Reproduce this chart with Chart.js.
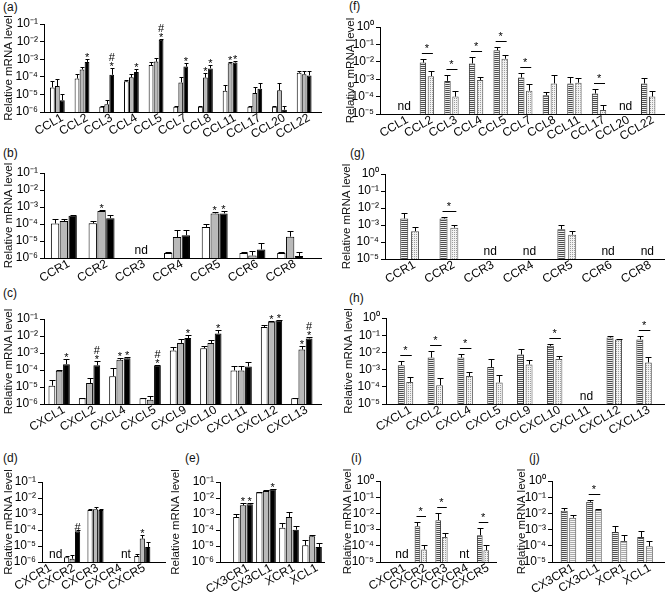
<!DOCTYPE html>
<html><head><meta charset="utf-8">
<script src="https://cdn.jsdelivr.net/npm/chart.js@4.4.1/dist/chart.umd.min.js"></script>
<style>
html,body{margin:0;padding:0;background:#fff}
body{width:667px;height:598px;position:relative;overflow:hidden;font-family:"Liberation Sans",Arial,sans-serif}
canvas{position:absolute}
.lab{position:absolute;font-size:12px;color:#111;line-height:12px}
</style></head><body>
<div class="lab" style="left:3px;top:1px">(a)</div>
<div class="lab" style="left:3px;top:147px">(b)</div>
<div class="lab" style="left:3px;top:287px">(c)</div>
<div class="lab" style="left:3px;top:452px">(d)</div>
<div class="lab" style="left:185px;top:452px">(e)</div>
<div class="lab" style="left:349px;top:0px">(f)</div>
<div class="lab" style="left:350px;top:147px">(g)</div>
<div class="lab" style="left:349px;top:292px">(h)</div>
<div class="lab" style="left:351px;top:452px">(i)</div>
<div class="lab" style="left:529px;top:452px">(j)</div>
<script>
// ---------- tick values ----------
const yTicksLeft = [1e-6, 1e-5, 1e-4, 1e-3, 1e-2, 1e-1];
const yTicksRight = [1e-5, 1e-4, 1e-3, 1e-2, 1e-1, 1];

// ---------- (a) CC chemokines, three groups ----------
const aCats = ['CCL1','CCL2','CCL3','CCL4','CCL5','CCL7','CCL8','CCL11','CCL17','CCL20','CCL22'];
const aWhite    = [2.5e-5, 8e-5, 2e-6, 5.5e-5, 4.7e-4, 2e-6, 2e-6, 1.6e-5, 2e-6, 2e-6, 1.7e-4];
const aWhiteErr = [5.7e-5, 1.45e-4, 2.2e-6, 6.5e-5, 6.5e-4, 2.2e-6, 2.2e-6, 3.6e-5, 2.2e-6, 2.2e-6, 2.2e-4];
const aGray     = [3e-5, 2.6e-4, 2.8e-6, 9.3e-5, 7.3e-4, 4.8e-5, 9e-5, 5.9e-4, 1.2e-5, 1.7e-5, 1.4e-4];
const aGrayErr  = [7.8e-5, 3.8e-4, 4.7e-6, 1.45e-4, 1.1e-3, 1e-4, 1.6e-4, 6.9e-4, 2.5e-5, 4.2e-5, 2.1e-4];
const aBlack    = [4.7e-6, 7e-4, 1.3e-4, 1.9e-4, 1.26e-2, 3.8e-4, 3e-4, 6.5e-4, 2.1e-5, 1.35e-6, 1.2e-4];
const aBlackErr = [1e-5, 1.05e-3, 3e-4, 2.6e-4, 1.5e-2, 5.9e-4, 4.7e-4, 8.3e-4, 4.2e-5, 2.1e-6, 2.1e-4];
const aGrayMarks  = ['','','','','','','*','*','','',''];
const aBlackMarks = ['','*','*#','*','*#','*','*','*','','',''];

// ---------- (b) CC receptors ----------
const bCats = ['CCR1','CCR2','CCR3','CCR4','CCR5','CCR6','CCR8'];
const bWhite    = [1.07e-4, 1.1e-4, null, 2e-6, 6.7e-5, 2e-6, 2e-6];
const bWhiteErr = [1.9e-4, 1.55e-4, null, 2.2e-6, 9.8e-5, 2.2e-6, 2.2e-6];
const bGray     = [1.5e-4, 5.8e-4, null, 1.7e-5, 4.2e-4, 1.4e-6, 1.8e-5];
const bGrayErr  = [2.1e-4, 6.6e-4, null, 4.7e-5, 4.8e-4, 2.5e-6, 3.7e-5];
const bBlack    = [3.1e-4, 2.2e-4, null, 2.2e-5, 4.2e-4, 3.2e-6, 1.3e-6];
const bBlackErr = [3.6e-4, 3.6e-4, null, 4.7e-5, 5.7e-4, 8e-6, 2.3e-6];
const bGrayMarks  = ['','*','','','*','',''];
const bBlackMarks = ['','','','','*','',''];
const bNotes = ['','','nd','','','',''];

// ---------- (c) CXC chemokines ----------
const cCats = ['CXCL1','CXCL2','CXCL4','CXCL5','CXCL9','CXCL10','CXCL11','CXCL12','CXCL13'];
const cWhite    = [1.2e-5, 2.2e-6, 4.3e-5, 2.2e-6, 1.4e-3, 1.9e-3, 9.5e-5, 3.4e-2, 2.2e-6];
const cWhiteErr = [2.6e-5, 2.4e-6, 1.3e-4, 2.4e-6, 2.2e-3, 2.5e-3, 1.65e-4, 4.3e-2, 2.4e-6];
const cGray     = [9e-5, 1.7e-5, 4e-4, 1.8e-6, 3.9e-3, 3.9e-3, 9.5e-5, 6.9e-2, 1.6e-3];
const cGrayErr  = [9.5e-5, 3.4e-5, 5.1e-4, 2.8e-6, 6.6e-3, 6e-3, 1.8e-4, 7.6e-2, 2.5e-3];
const cBlack    = [2.2e-4, 1.9e-4, 4.9e-4, 1.8e-4, 7.6e-3, 1.4e-2, 1.6e-4, 8.3e-2, 7.2e-3];
const cBlackErr = [4.5e-4, 3.2e-4, 5.6e-4, 2e-4, 1.2e-2, 2.3e-2, 2.9e-4, 8.7e-2, 8.7e-3];
const cGrayMarks  = ['','','*','','','','','*','*'];
const cBlackMarks = ['*','*#','*','*#','*','*','','*','*#'];

// ---------- (d) CXC receptors ----------
const dCats = ['CXCR1','CXCR2','CXCR3','CXCR4','CXCR5'];
const dWhite    = [null, 2e-6, 1.8e-3, null, 2.4e-6];
const dWhiteErr = [null, 2.4e-6, 2.2e-3, null, 3.2e-6];
const dGray     = [null, 1.6e-6, 2e-3, null, 2.9e-5];
const dGrayErr  = [null, 2.6e-6, 2.7e-3, null, 4.7e-5];
const dBlack    = [null, 8.3e-5, 1.8e-3, null, 8.7e-6];
const dBlackErr = [null, 1.05e-4, 2.1e-3, null, 1.8e-5];
const dGrayMarks  = ['','','','','*'];
const dBlackMarks = ['','#','','',''];
const dNotes = ['nd','','','nt',''];

// ---------- (e) CX3C / XC ----------
const eCats = ['CX3CR1','CX3CL1','XCR1','XCL1'];
const eWhite    = [6.4e-4, 2.2e-2, 1.4e-4, 1.1e-5];
const eWhiteErr = [1.05e-3, 2.4e-2, 2.75e-4, 2.5e-5];
const eGray     = [3.5e-3, 2.7e-2, 6.5e-4, 4e-5];
const eGrayErr  = [4.9e-3, 3e-2, 1.3e-3, 4.7e-5];
const eBlack    = [4e-3, 3.5e-2, 1.05e-4, 8.7e-6];
const eBlackErr = [4.9e-3, 3.7e-2, 1.7e-4, 1.55e-5];
const eGrayMarks  = ['*','','',''];
const eBlackMarks = ['*','*','',''];

// ---------- (f) CC chemokines, two groups ----------
const fCats = ['CCL1','CCL2','CCL3','CCL4','CCL5','CCL7','CCL8','CCL11','CCL17','CCL20','CCL22'];
const fStriped    = [null, 9e-3, 8e-4, 8e-3, 4.6e-2, 1.25e-3, 1.2e-4, 5.7e-4, 1.5e-4, null, 5.7e-4];
const fStripedErr = [null, 1.4e-2, 1.7e-3, 1.9e-2, 7e-2, 2.3e-3, 1.9e-4, 1.4e-3, 2.7e-4, null, 1.25e-3];
const fDotted     = [null, 1.5e-3, 1e-4, 9e-4, 1.5e-2, 2.2e-4, 5.7e-4, 6.3e-4, 1.7e-5, null, 1e-4];
const fDottedErr  = [null, 3e-3, 2.2e-4, 1.4e-3, 2.6e-2, 5e-4, 1.7e-3, 1.25e-3, 3.2e-5, null, 2.2e-4];
const fSig   = [0,1,1,1,1,1,0,0,1,0,0];
const fNotes = ['nd','','','','','','','','','nd',''];

// ---------- (g) CC receptors ----------
const gCats = ['CCR1','CCR2','CCR3','CCR4','CCR5','CCR6','CCR8'];
const gStriped    = [2.4e-3, 2.4e-3, null, null, 5.6e-4, null, null];
const gStripedErr = [5.2e-3, 3.1e-3, null, null, 1.07e-3, null, null];
const gDotted     = [4.3e-4, 7e-4, null, null, 2.7e-4, null, null];
const gDottedErr  = [7.8e-4, 9.8e-4, null, null, 4.3e-4, null, null];
const gSig   = [0,1,0,0,0,0,0];
const gNotes = ['','','nd','nd','','nd','nd'];

// ---------- (h) CXC chemokines ----------
const hCats = ['CXCL1','CXCL2','CXCL4','CXCL5','CXCL9','CXCL10','CXCL11','CXCL12','CXCL13'];
const hStriped    = [1.8e-3, 5e-3, 5e-3, 1.4e-3, 7.5e-3, 2.4e-2, null, 7.3e-2, 5.6e-2];
const hStripedErr = [3.2e-3, 1.17e-2, 7.9e-3, 4.4e-3, 1.55e-2, 2.9e-2, null, 9.1e-2, 8.7e-2];
const hDotted     = [1.9e-4, 1.25e-4, 4.2e-4, 1.8e-4, 2e-3, 4.2e-3, null, 5.6e-2, 2.6e-3];
const hDottedErr  = [3.8e-4, 3.1e-4, 7.4e-4, 4.8e-4, 3.5e-3, 6.3e-3, null, 6e-2, 5.5e-3];
const hSig   = [1,1,1,0,0,1,0,0,1];
const hNotes = ['','','','','','','nd','',''];

// ---------- (i) CXC receptors ----------
const iCats = ['CXCR1','CXCR2','CXCR3','CXCR4','CXCR5'];
const iStriped    = [null, 1.6e-3, 3.8e-3, null, 4.5e-4];
const iStripedErr = [null, 3e-3, 1e-2, null, 1.17e-3];
const iDotted     = [null, 6e-5, 3.5e-4, null, 5.3e-5];
const iDottedErr  = [null, 1.07e-4, 6.6e-4, null, 1.07e-4];
const iSig   = [0,1,1,0,1];
const iNotes = ['nd','','','nt',''];

// ---------- (j) CX3C / XC ----------
const jCats = ['CX3CR1','CX3CL1','XCR1','XCL1'];
const jStriped    = [1.45e-2, 5.2e-2, 7.2e-4, 3.5e-4];
const jStripedErr = [2.3e-2, 7.2e-2, 1.6e-3, 7.9e-4];
const jLight      = [5.4e-3, 1.6e-2, 2e-4, 9.3e-5];
const jLightErr   = [8.5e-3, 2e-2, 4.5e-4, 2e-4];
const jSig = [0,1,0,0];

// ---------- helpers ----------
const FONT = '"Liberation Sans", Arial, sans-serif';
const SUP = {'-':'\u207B','0':'\u2070','1':'\u00B9','2':'\u00B2','3':'\u00B3','4':'\u2074','5':'\u2075','6':'\u2076'};
function decadeLabel(v){ const e = Math.round(Math.log10(v)); return '10' + String(e).split('').map(c => SUP[c]).join(''); }

function makeTile(w, h, bg, fg, pts){
  const c = document.createElement('canvas'); c.width = w; c.height = h;
  const x = c.getContext('2d'); x.fillStyle = bg; x.fillRect(0,0,w,h);
  x.fillStyle = fg; pts.forEach(p => x.fillRect(p[0], p[1], p[2], p[3]));
  return x.createPattern(c, 'repeat');
}
const stripeDark  = makeTile(2, 2, '#f0f0f0', '#4d4d4d', [[0,0,2,1]]);
const stripeLight = makeTile(2, 2, '#f7f7f7', '#a8a8a8', [[0,0,2,1]]);
const dots        = makeTile(2, 2, '#f2f2f2', '#9c9c9c', [[0,0,1,1]]);

const errPlugin = {
  id: 'errs',
  afterLayout(chart){
    const P = chart.options.plugins.errs, s = chart.scales.x;
    s.left = P.slotL; s.right = P.slotR; s.width = P.slotR - P.slotL;
    s.configure();
  },
  beforeDatasetsDraw(chart){
    const ctx = chart.ctx, a = chart.chartArea;
    ctx.save(); ctx.strokeStyle = '#000'; ctx.lineWidth = 1;
    const yy = Math.round(a.bottom) + 0.5;
    ctx.beginPath(); ctx.moveTo(a.left, yy); ctx.lineTo(a.right, yy); ctx.stroke();
    ctx.restore();
  },
  afterDatasetsDraw(chart){
    const ctx = chart.ctx, y = chart.scales.y, x = chart.scales.x, P = chart.options.plugins.errs;
    ctx.save();
    ctx.strokeStyle = '#000'; ctx.lineWidth = 1; ctx.fillStyle = '#000';
    const tops = [];
    chart.data.datasets.forEach((ds, di) => {
      const meta = chart.getDatasetMeta(di);
      ds.err.forEach((ev, i) => {
        if (ev == null || ds.data[i] == null) return;
        const el = meta.data[i];
        const bx = Math.round(el.x) + 0.5;
        const yt = y.getPixelForValue(ev);
        const yb = y.getPixelForValue(ds.data[i]);
        ctx.beginPath();
        ctx.moveTo(bx, yb); ctx.lineTo(bx, Math.round(yt) + 0.5);
        ctx.moveTo(bx - P.cap, Math.round(yt) + 0.5); ctx.lineTo(bx + P.cap, Math.round(yt) + 0.5);
        ctx.stroke();
        tops[i] = Math.min(tops[i] ?? 1e9, yt);
        const m = ds.marks ? ds.marks[i] : '';
        if (m) {
          ctx.font = '11px ' + FONT; ctx.textAlign = 'center'; ctx.textBaseline = 'alphabetic';
          let ty = yt + 2;
          for (const ch of m) {
            if (ch === '*') { ctx.fillText('*', el.x, ty); ty -= 8; }
            else { ctx.fillText('#', el.x, ty - 1); ty -= 10; }
          }
        }
      });
    });
    if (P.sig) {
      const m0 = chart.getDatasetMeta(0), m1 = chart.getDatasetMeta(1);
      P.sig.forEach((s, i) => {
        if (!s) return;
        const ly = Math.round(tops[i] - 6) + 0.5;
        ctx.beginPath(); ctx.moveTo(m0.data[i].x - 1, ly); ctx.lineTo(m1.data[i].x + 2, ly); ctx.stroke();
        ctx.font = '11px ' + FONT; ctx.textAlign = 'center'; ctx.textBaseline = 'alphabetic';
        ctx.fillText('*', (m0.data[i].x + m1.data[i].x) / 2, ly - 2);
      });
    }
    if (P.notes) {
      ctx.font = '12px ' + FONT; ctx.textAlign = 'center'; ctx.textBaseline = 'middle';
      P.notes.forEach((n, i) => { if (n) ctx.fillText(n, x.getPixelForValue(i) + P.ndx, y.bottom - 7); });
    }
    // category labels, rotated 30 degrees, right end at the category position
    ctx.font = '12px ' + FONT; ctx.textAlign = 'right'; ctx.textBaseline = 'middle'; ctx.fillStyle = '#000';
    chart.data.labels.forEach((lab, i) => {
      const px = x.getPixelForValue(i) + P.lx, py = chart.chartArea.bottom + P.ly;
      ctx.save(); ctx.translate(px, py); ctx.rotate(-Math.PI / 6); ctx.fillText(lab, 0, 0); ctx.restore();
    });
    ctx.restore();
  }
};

function panel(p){
  const cv = document.createElement('canvas');
  cv.width = p.W; cv.height = p.H;
  cv.style.left = p.L + 'px'; cv.style.top = p.T + 'px';
  cv.style.width = p.W + 'px'; cv.style.height = p.H + 'px';
  document.body.appendChild(cv);
  const ticks = p.right3 ? yTicksRight : yTicksLeft;
  new Chart(cv, {
    type: 'bar',
    data: { labels: p.cats, datasets: p.ds },
    options: {
      responsive: false, animation: false, devicePixelRatio: 1,
      layout: { padding: { left: 0, top: p.top - p.T, right: p.W - (p.lineR - p.L), bottom: 0 } },
      datasets: { bar: { categoryPercentage: p.cp, barPercentage: p.bp, borderSkipped: 'start' } },
      plugins: { legend: { display: false }, tooltip: { enabled: false },
                 errs: { cap: p.cap, sig: p.sig, notes: p.notes, slotL: p.slotL - p.L, slotR: p.slotR - p.L,
                         lx: p.lx ?? 5, ly: 5, ndx: p.ndx ?? 2 } },
      scales: {
        x: {
          grid: { display: false, drawTicks: false },
          border: { display: false },
          ticks: { display: false },
          afterFit(s){ s.height = p.H - (p.bottom - p.T); s.paddingLeft = 0; s.paddingRight = 0; }
        },
        y: {
          type: 'logarithmic', min: ticks[0], max: ticks[ticks.length - 1],
          afterBuildTicks(s){ s.ticks = ticks.map(v => ({ value: v })); },
          grid: { display: true, drawOnChartArea: false, drawTicks: true, tickLength: 4, color: '#000' },
          border: { display: true, color: '#000', width: 1 },
          ticks: { autoSkip: false, callback: v => decadeLabel(v), padding: 2, color: '#000',
                   font: { family: FONT, size: 12 } },
          title: { display: true, text: 'Relative mRNA level', color: '#111', padding: { top: 2, bottom: 0 },
                   font: { family: FONT, size: 11.5 } },
          afterFit(s){ s.width = p.ax - p.L; s.paddingTop = 0; s.paddingBottom = 0; }
        }
      }
    },
    plugins: [errPlugin]
  });
}

function tri(w, we, g, ge, k, ke, gm, km){
  return [
    { data: w, err: we, backgroundColor: '#ffffff', borderColor: '#000', borderWidth: 1 },
    { data: g, err: ge, marks: gm, backgroundColor: '#b9b9b9', borderColor: '#000', borderWidth: 1 },
    { data: k, err: ke, marks: km, backgroundColor: '#000000', borderColor: '#000', borderWidth: 1 }
  ];
}
function duo(s, se, d, de, fill2){
  return [
    { data: s, err: se, backgroundColor: stripeDark, borderColor: '#333', borderWidth: 1 },
    { data: d, err: de, backgroundColor: fill2, borderColor: '#555', borderWidth: 1 }
  ];
}

panel({L:0,T:0,W:330,H:140, ax:44, top:24, bottom:112, slotL:45, slotR:316.5, lineR:322, cats:aCats, cp:0.61, bp:0.95, cap:2,
       ds: tri(aWhite,aWhiteErr,aGray,aGrayErr,aBlack,aBlackErr,aGrayMarks,aBlackMarks)});
panel({L:0,T:140,W:330,H:145, ax:44, top:173, bottom:258, slotL:45, slotR:309, lineR:322, cats:bCats, cp:0.7, bp:0.95, cap:3, notes:bNotes,
       ds: tri(bWhite,bWhiteErr,bGray,bGrayErr,bBlack,bBlackErr,bGrayMarks,bBlackMarks)});
panel({L:0,T:285,W:330,H:150, ax:44, top:319, bottom:404, slotL:44, slotR:317, lineR:322, cats:cCats, cp:0.72, bp:0.93, cap:3,
       ds: tri(cWhite,cWhiteErr,cGray,cGrayErr,cBlack,cBlackErr,cGrayMarks,cBlackMarks)});
panel({L:0,T:450,W:172,H:148, ax:42, top:482, bottom:562, slotL:37, slotR:154, lineR:166, cats:dCats, cp:0.7, bp:0.95, cap:2, notes:dNotes, ndx:7, lx:2,
       ds: tri(dWhite,dWhiteErr,dGray,dGrayErr,dBlack,dBlackErr,dGrayMarks,dBlackMarks)});
panel({L:167,T:450,W:163,H:148, ax:220, top:482, bottom:562, slotL:231.5, slotR:323.5, lineR:325, cats:eCats, cp:0.87, bp:0.95, cap:3,
       ds: tri(eWhite,eWhiteErr,eGray,eGrayErr,eBlack,eBlackErr,eGrayMarks,eBlackMarks)});

panel({L:342,T:0,W:325,H:140, ax:380, top:27, bottom:114, slotL:390, slotR:660.5, lineR:665, cats:fCats, cp:0.65, bp:0.8, cap:3, right3:true, sig:fSig, notes:fNotes,
       ds: duo(fStriped,fStripedErr,fDotted,fDottedErr,dots)});
panel({L:338,T:140,W:329,H:145, ax:385, top:174, bottom:259, slotL:390, slotR:665, lineR:665, cats:gCats, cp:0.55, bp:0.74, cap:3, right3:true, sig:gSig, notes:gNotes,
       ds: duo(gStriped,gStripedErr,gDotted,gDottedErr,dots)});
panel({L:340,T:285,W:327,H:150, ax:386, top:318, bottom:404, slotL:390.6, slotR:659, lineR:665, cats:hCats, cp:0.57, bp:0.82, cap:3, right3:true, sig:hSig, notes:hNotes,
       ds: duo(hStriped,hStripedErr,hDotted,hDottedErr,dots)});
panel({L:339,T:450,W:165,H:148, ax:380, top:481, bottom:562, slotL:389.6, slotR:493.4, lineR:497, cats:iCats, cp:0.63, bp:0.87, cap:3, right3:true, sig:iSig, notes:iNotes,
       ds: duo(iStriped,iStripedErr,iDotted,iDottedErr,dots)});
panel({L:513,T:450,W:154,H:148, ax:552, top:481, bottom:562, slotL:555.7, slotR:657.8, lineR:665, cats:jCats, cp:0.67, bp:0.82, cap:3, right3:true, sig:jSig,
       ds: duo(jStriped,jStripedErr,jLight,jLightErr,stripeLight)});
</script>
</body></html>
